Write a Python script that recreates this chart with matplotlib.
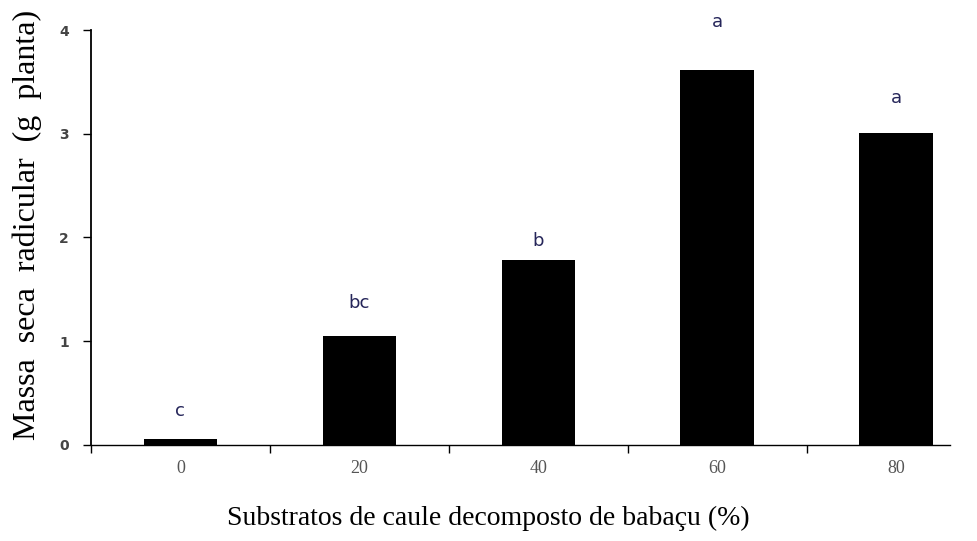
import matplotlib
matplotlib.use("Agg")
import matplotlib.pyplot as plt

# data
categories = ["0", "20", "40", "60", "80"]
massa_seca = [0.06, 1.05, 1.78, 3.61, 3.01]
letras = ["c", "bc", "b", "a", "a"]
# vertical gap (points) between bar top and its letter, as in the source
letra_gap = [20, 24, 14, 35, 25]


def main():
    fig = plt.figure(figsize=(9.78, 5.41), dpi=100)
    ax = fig.add_axes([0.093, 0.1775, 0.878, 0.767])

    x = list(range(len(categories)))
    ax.bar(x, massa_seca, width=0.41, color="black")

    # significance letters above each bar
    for xi, v, l, g in zip(x, massa_seca, letras, letra_gap):
        ax.annotate(l, (xi, v), xytext=(0, g), textcoords="offset points",
                    ha="center", va="center", fontsize=13,
                    color="#26265a", family="DejaVu Sans")

    ax.set_xlim(-0.5, 4.3)
    ax.set_ylim(0, 4)
    ax.set_yticks([0, 1, 2, 3, 4])

    # category labels centred, ticks on the boundaries
    ax.set_xticks(x)
    ax.set_xticklabels(categories)
    ax.tick_params(axis="x", which="major", length=0, pad=11,
                   labelsize=13, labelcolor="#555555")
    for t in ax.get_xticklabels():
        t.set_family("Liberation Serif")
    ax.set_xticks([-0.5, 0.5, 1.5, 2.5, 3.5], minor=True)
    ax.tick_params(axis="x", which="minor", length=6, width=1, direction="out")
    ax.tick_params(axis="y", length=6, width=1, pad=10,
                   labelsize=10, labelcolor="#444444")
    for t in ax.get_yticklabels():
        t.set_fontweight("bold")

    for side in ["top", "right"]:
        ax.spines[side].set_visible(False)
    ax.spines["left"].set_linewidth(1.3)
    ax.spines["bottom"].set_linewidth(1.0)

    fig.text(0.028, 0.584, "Massa  seca  radicular  (g  planta)",
             family="Liberation Serif", fontsize=23, rotation=90,
             ha="center", va="center")
    fig.text(0.499, 0.041, "Substratos de caule decomposto de babaçu (%)",
             family="Liberation Serif", fontsize=20, ha="center", va="center")

    plt.savefig("out.png", dpi=100)
    plt.close()


if __name__ == '__main__':
    main()
